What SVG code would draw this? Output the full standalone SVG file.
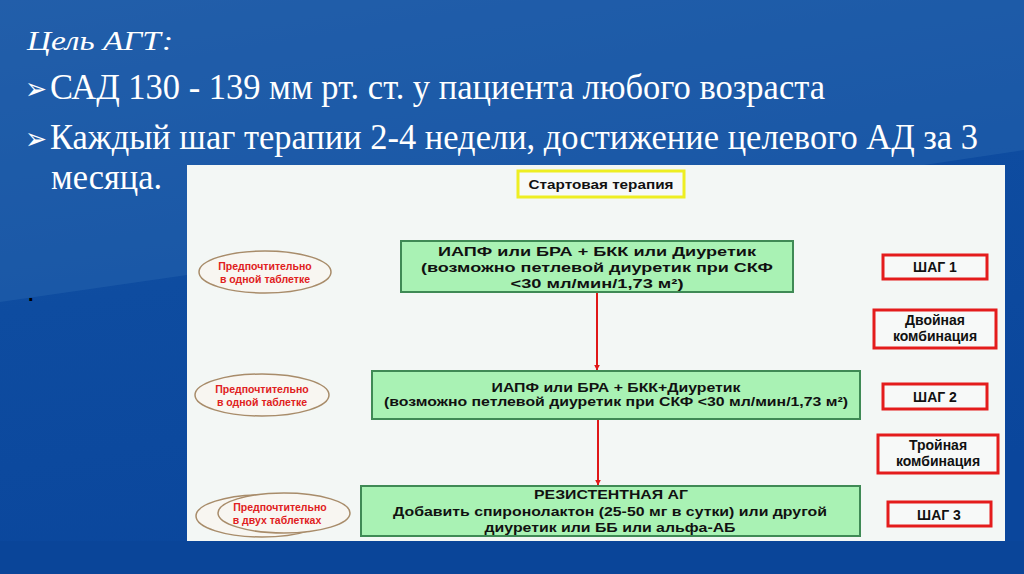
<svg xmlns="http://www.w3.org/2000/svg" width="1024" height="574" viewBox="0 0 1024 574">
<defs>
<linearGradient id="bg" x1="0" y1="0" x2="0.3" y2="1">
<stop offset="0" stop-color="#1f5aa6"/>
<stop offset="0.5" stop-color="#0e4ca0"/>
<stop offset="1" stop-color="#0a469c"/>
</linearGradient>
<marker id="ah" viewBox="0 0 10 10" refX="9" refY="5" markerWidth="6" markerHeight="6" orient="auto" markerUnits="userSpaceOnUse">
<path d="M0,0 L10,5 L0,10 z" fill="#e01818"/>
</marker>
<style>
.title{font-family:"Liberation Serif","Times New Roman",serif;fill:#ffffff;}
.bul{font-family:"DejaVu Sans",sans-serif;fill:#ffffff;font-size:30px;}
.box{fill:#a9f2b4;stroke:#3f8a55;stroke-width:2;}
.bt{font-family:"Liberation Sans",Arial,sans-serif;font-weight:bold;font-size:13px;fill:#111;text-anchor:middle;}
.rb{fill:#f7f9f8;stroke:#e41c1c;stroke-width:3;}
.rt{font-family:"Liberation Sans",Arial,sans-serif;font-weight:bold;font-size:14px;fill:#111;text-anchor:middle;}
.el{fill:#f8f6f1;stroke:#a88c6a;stroke-width:1.5;}
.et{font-family:"Liberation Sans",Arial,sans-serif;font-weight:bold;font-size:10.5px;fill:#e02020;text-anchor:middle;}
.conn{stroke:#e01818;stroke-width:2;fill:none;}
</style>
</defs>
<rect x="0" y="0" width="1024" height="574" fill="url(#bg)"/>
<polygon points="0,0 1024,0 1024,150 187,275 0,302" fill="#2462ad" opacity="0.55"/>
<rect x="0" y="541" width="1024" height="33" fill="#0a4599"/>

<text class="title" x="27" y="50" font-size="28" font-style="italic" textLength="146" lengthAdjust="spacingAndGlyphs">Цель АГТ:</text>
<text class="bul" x="25" y="99" textLength="22" lengthAdjust="spacingAndGlyphs">➢</text>
<text class="title" x="50" y="99" font-size="35" textLength="775" lengthAdjust="spacingAndGlyphs">САД 130 - 139 мм рт. ст. у пациента любого возраста</text>
<text class="bul" x="25" y="149" textLength="22" lengthAdjust="spacingAndGlyphs">➢</text>
<text class="title" x="50" y="149" font-size="35" textLength="928" lengthAdjust="spacingAndGlyphs">Каждый шаг терапии 2-4 недели, достижение целевого АД за 3</text>
<text class="title" x="51" y="189" font-size="35" textLength="111" lengthAdjust="spacingAndGlyphs">месяца.</text>
<text x="28" y="301" font-family="Liberation Sans,Arial,sans-serif" font-size="20" font-weight="bold" fill="#000">.</text>

<rect x="187" y="165" width="818" height="376" fill="#f3f7f5"/>

<g id="connectors">
<line class="conn" x1="597" y1="293" x2="597" y2="370" marker-end="url(#ah)"/>
<line class="conn" x1="598" y1="420" x2="598" y2="485" marker-end="url(#ah)"/>
</g>

<g id="start">
<rect x="518" y="171" width="166" height="26" fill="#f7f9f8" stroke="#eeee22" stroke-width="3"/>
<text class="bt" x="601" y="189" font-size="13" textLength="145" lengthAdjust="spacingAndGlyphs">Стартовая терапия</text>
</g>

<g id="step1box">
<rect class="box" x="401" y="241" width="392" height="51"/>
<text class="bt" x="597" y="256" textLength="318" lengthAdjust="spacingAndGlyphs">ИАПФ или БРА + БКК или Диуретик</text>
<text class="bt" x="597" y="272" textLength="352" lengthAdjust="spacingAndGlyphs">(возможно петлевой диуретик при СКФ</text>
<text class="bt" x="597" y="288" textLength="173" lengthAdjust="spacingAndGlyphs">&lt;30 мл/мин/1,73 м²)</text>
</g>

<g id="step2box">
<rect class="box" x="372" y="371" width="488" height="48"/>
<text class="bt" x="616" y="392" textLength="249" lengthAdjust="spacingAndGlyphs">ИАПФ или БРА + БКК+Диуретик</text>
<text class="bt" x="616" y="406" textLength="464" lengthAdjust="spacingAndGlyphs">(возможно петлевой диуретик при СКФ &lt;30 мл/мин/1,73 м²)</text>
</g>

<g id="step3box">
<rect class="box" x="361" y="486" width="499" height="50"/>
<text class="bt" x="611" y="499" textLength="154" lengthAdjust="spacingAndGlyphs">РЕЗИСТЕНТНАЯ АГ</text>
<text class="bt" x="610" y="516" textLength="434" lengthAdjust="spacingAndGlyphs">Добавить спиронолактон (25-50 мг в сутки) или другой</text>
<text class="bt" x="610" y="532" textLength="251" lengthAdjust="spacingAndGlyphs">диуретик или ББ или альфа-АБ</text>
</g>

<g id="shag1">
<rect class="rb" x="883" y="255" width="104" height="24"/>
<text class="rt" x="935" y="272" font-size="15">ШАГ 1</text>
</g>
<g id="double">
<rect class="rb" x="874" y="310" width="122" height="38"/>
<text class="rt" x="935" y="325">Двойная</text>
<text class="rt" x="935" y="341">комбинация</text>
</g>
<g id="shag2">
<rect class="rb" x="883" y="384" width="104" height="25"/>
<text class="rt" x="935" y="402" font-size="15">ШАГ 2</text>
</g>
<g id="triple">
<rect class="rb" x="878" y="435" width="120" height="38"/>
<text class="rt" x="938" y="450">Тройная</text>
<text class="rt" x="938" y="466">комбинация</text>
</g>
<g id="shag3">
<rect class="rb" x="888" y="502" width="103" height="24"/>
<text class="rt" x="939" y="520" font-size="15">ШАГ 3</text>
</g>

<g id="ell1">
<ellipse class="el" cx="265" cy="272" rx="66" ry="21"/>
<text class="et" x="265" y="270">Предпочтительно</text>
<text class="et" x="265" y="283">в одной таблетке</text>
</g>
<g id="ell2">
<ellipse class="el" cx="262" cy="395" rx="67" ry="21"/>
<text class="et" x="262" y="393">Предпочтительно</text>
<text class="et" x="262" y="406">в одной таблетке</text>
</g>
<g id="ell3">
<ellipse class="el" cx="262" cy="516" rx="66" ry="21"/>
<ellipse class="el" cx="284" cy="513" rx="66" ry="20"/>
<text class="et" x="280" y="511">Предпочтительно</text>
<text class="et" x="277" y="524">в двух таблетках</text>
</g>
</svg>
